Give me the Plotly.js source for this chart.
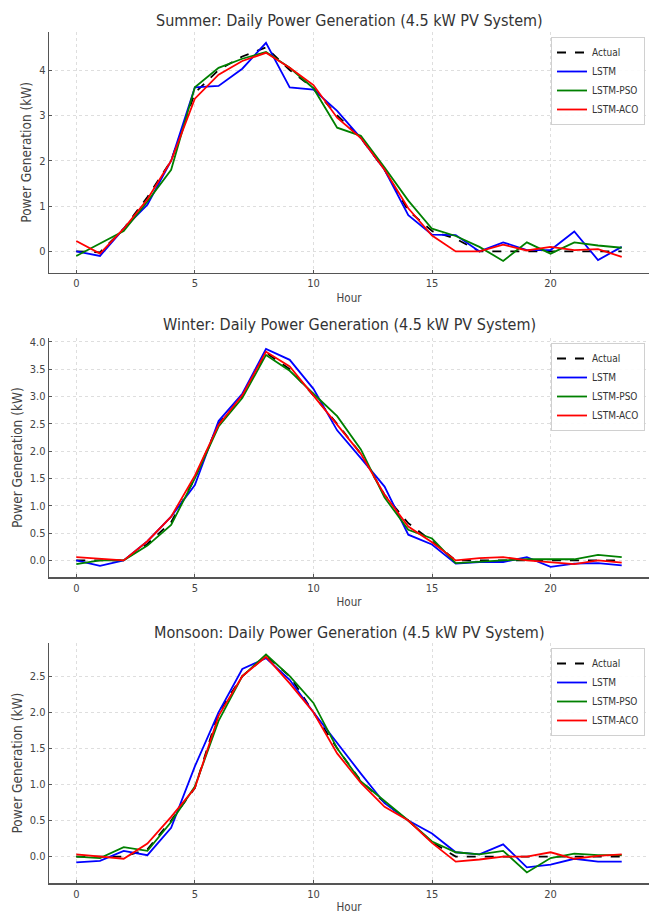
<!DOCTYPE html>
<html>
<head>
<meta charset="utf-8">
<script src="https://cdn.plot.ly/plotly-3.0.1.min.js"></script>
<style>html,body{margin:0;padding:0;background:#fff;}#chart{width:656px;height:914px;}</style>
</head>
<body>
<div id="chart"></div>
<script>
const hours = [0,1,2,3,4,5,6,7,8,9,10,11,12,13,14,15,16,17,18,19,20,21,22,23];
const seriesNames = ["Actual","LSTM","LSTM-PSO","LSTM-ACO"];
const panelTitles = ["Summer: Daily Power Generation (4.5 kW PV System)","Winter: Daily Power Generation (4.5 kW PV System)","Monsoon: Daily Power Generation (4.5 kW PV System)"];

const summerActual = [0.0,-0.02,0.5,1.2,2.0,3.5,4.0,4.3,4.5,4.0,3.6,3.0,2.5,1.8,0.9,0.45,0.28,0.0,0.0,0.0,0.0,0.0,0.0,0.0];
const summerLSTM   = [0.0,-0.1,0.5,1.03,2.0,3.62,3.65,4.03,4.6,3.62,3.57,3.1,2.5,1.8,0.8,0.37,0.36,0.0,0.2,0.03,0.03,0.44,-0.19,0.1];
const summerPSO    = [-0.1,0.17,0.45,1.1,1.8,3.62,4.05,4.25,4.4,4.05,3.6,2.73,2.55,1.85,1.12,0.5,0.34,0.1,-0.21,0.2,-0.05,0.2,0.13,0.08];
const summerACO    = [0.23,-0.05,0.5,1.15,2.0,3.37,3.9,4.2,4.38,4.05,3.67,2.95,2.5,1.8,0.95,0.35,0.0,0.0,0.15,0.02,0.1,0.03,0.05,-0.12];

const winterActual = [0.0,0.0,0.0,0.3,0.7,1.5,2.5,3.0,3.8,3.5,3.02,2.5,1.95,1.2,0.68,0.35,0.0,0.0,0.0,0.0,0.0,0.0,0.0,0.0];
const winterLSTM   = [0.0,-0.1,0.0,0.35,0.8,1.38,2.55,3.05,3.87,3.67,3.14,2.38,1.87,1.35,0.47,0.29,-0.06,-0.03,-0.03,0.06,-0.12,-0.06,-0.05,-0.09];
const winterPSO    = [-0.07,0.0,0.0,0.27,0.65,1.5,2.45,2.97,3.76,3.47,3.05,2.64,2.03,1.15,0.56,0.4,-0.05,-0.02,0.0,0.02,0.02,0.02,0.1,0.06];
const winterACO    = [0.06,0.03,0.0,0.35,0.8,1.55,2.48,3.02,3.82,3.55,3.02,2.48,1.95,1.2,0.62,0.33,0.0,0.04,0.06,0.0,-0.03,-0.07,0.0,-0.04];

const monsoonActual = [0.0,0.0,0.0,0.1,0.5,0.95,2.0,2.5,2.78,2.5,2.0,1.5,1.05,0.75,0.5,0.2,0.0,0.0,0.0,0.0,0.0,0.0,0.0,0.0];
const monsoonLSTM   = [-0.08,-0.06,0.08,0.02,0.4,1.25,2.0,2.6,2.75,2.45,2.0,1.57,1.15,0.74,0.5,0.32,0.06,0.03,0.17,-0.15,-0.11,-0.03,-0.07,-0.07];
const monsoonPSO    = [0.0,-0.02,0.13,0.08,0.48,0.97,1.88,2.5,2.8,2.5,2.13,1.5,1.04,0.77,0.5,0.21,0.06,0.03,0.08,-0.22,-0.02,0.04,0.02,0.02];
const monsoonACO    = [0.03,0.0,-0.03,0.18,0.55,0.95,1.95,2.5,2.77,2.4,2.0,1.43,1.02,0.69,0.5,0.19,-0.07,-0.04,0.0,0.0,0.06,-0.03,0.01,0.03];

const panels = [
  [summerActual, summerLSTM, summerPSO, summerACO],
  [winterActual, winterLSTM, winterPSO, winterACO],
  [monsoonActual, monsoonLSTM, monsoonPSO, monsoonACO]
];

const W = 656, H = 914;
const FONT = "DejaVu Sans Condensed, DejaVu Sans, sans-serif";
const colors = ["black","#0000ff","#008000","#ff0000"];
const dashes = ["dash","solid","solid","solid"];
// pixel geometry of the three axes boxes [top, bottom]
const boxes = [[32,272.7],[338,577.3],[643,883.3]];
const yRanges = [[-0.47,4.84],[-0.31,4.07],[-0.37,2.96]];
const yDticks = [1,0.5,0.5];
const yFormats = ["d",".1f",".1f"];
const titleY = [20,325,632];
const xl = 49, xr = 649;

const traces = [];
panels.forEach((p, i) => {
  p.forEach((vals, j) => {
    traces.push({
      x: hours, y: vals, type: "scatter", mode: "lines",
      name: seriesNames[j],
      xaxis: i === 0 ? "x" : "x" + (i+1),
      yaxis: i === 0 ? "y" : "y" + (i+1),
      legend: i === 0 ? "legend" : "legend" + (i+1),
      line: {color: colors[j], width: 1.8, dash: dashes[j]},
      hoverinfo: "skip"
    });
  });
});

const layout = {
  width: W, height: H,
  margin: {l:0, r:0, t:0, b:0},
  paper_bgcolor: "#fff", plot_bgcolor: "#fff",
  font: {family: FONT, size: 11, color: "#444"},
  showlegend: true,
  annotations: []
};

const axisCommon = {
  showline: true, linecolor: "#555", linewidth: 1.3, mirror: false,
  ticks: "inside", ticklen: 3, tickcolor: "#555", tickwidth: 1,
  showgrid: true, gridcolor: "#dedede", griddash: "dot", gridwidth: 1,
  zeroline: false,
  tickfont: {family: FONT, size: 11, color: "#444"}
};

for (let i = 0; i < 3; i++) {
  const sfx = i === 0 ? "" : String(i+1);
  const [top, bot] = boxes[i];
  layout["xaxis" + sfx] = Object.assign({}, axisCommon, {
    domain: [xl/W, xr/W],
    anchor: "y" + sfx,
    range: [-1.15, 24.15],
    tickvals: [0,5,10,15,20],
    title: {text: "Hour", font: {family: FONT, size: 11.5, color: "#444"}, standoff: 4}
  });
  layout["yaxis" + sfx] = Object.assign({}, axisCommon, {
    domain: [1 - bot/H, 1 - top/H],
    anchor: "x" + sfx,
    range: yRanges[i],
    dtick: yDticks[i], tick0: 0,
    tickformat: yFormats[i],
    title: {text: "Power Generation (kW)", font: {family: FONT, size: 13.5, color: "#444"}, standoff: 4}
  });
  layout.annotations.push({
    text: panelTitles[i], xref: "paper", yref: "paper",
    x: (xl + xr) / 2 / W, y: 1 - titleY[i] / H,
    xanchor: "center", yanchor: "middle", showarrow: false,
    font: {family: FONT, size: 16, color: "#333"}
  });
  layout[i === 0 ? "legend" : "legend" + (i+1)] = {
    x: 645 / W, y: 1 - (top + 5) / H, xanchor: "right", yanchor: "top",
    xref: "paper", yref: "paper",
    bgcolor: "rgba(255,255,255,0.9)", bordercolor: "#d0d0d0", borderwidth: 1,
    font: {family: FONT, size: 10, color: "#333"},
    tracegroupgap: 0, itemwidth: 30
  };
}

Plotly.newPlot("chart", traces, layout, {displayModeBar: false, staticPlot: true});
</script>
</body>
</html>
